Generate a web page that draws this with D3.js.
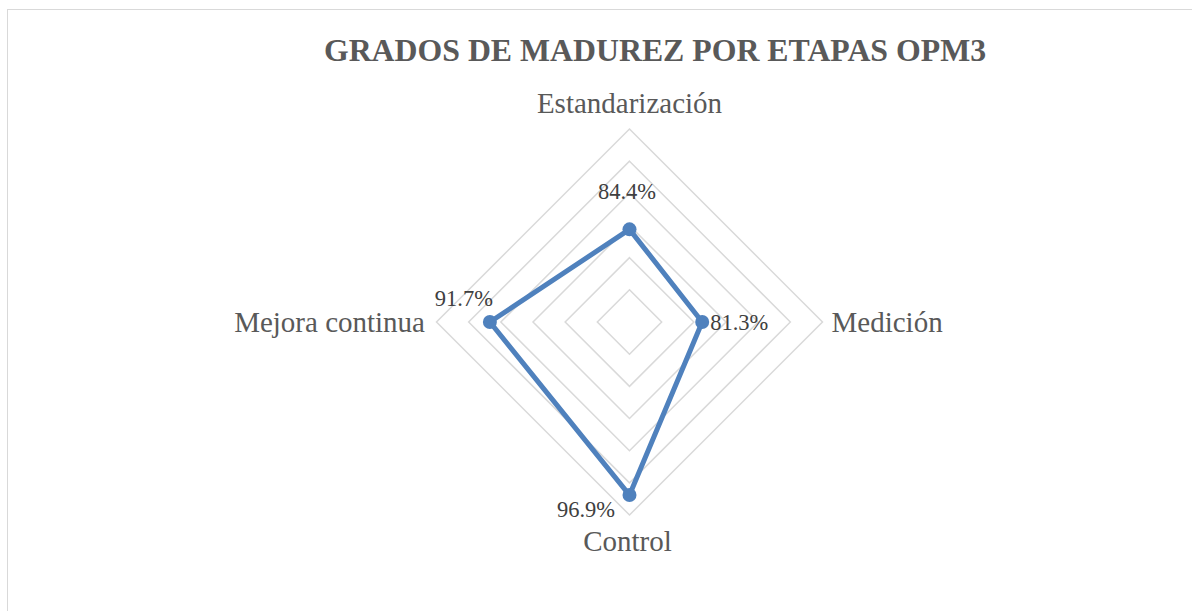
<!DOCTYPE html>
<html>
<head>
<meta charset="utf-8">
<script src="https://cdn.jsdelivr.net/npm/d3@7"></script>
<style>
	body { margin: 0; background: #fff; }
</style>
</head>
<body>
<div id="chart"></div>
<script>
var categories = ['Estandarización', 'Medición', 'Control', 'Mejora continua'];
var values = [84.4, 81.3, 96.9, 91.7];
var valueLabels = ['84.4%', '81.3%', '96.9%', '91.7%'];
var ringTicks = [75, 80, 85, 90, 95, 100];

var width = 1192, height = 611;
var cx = 629.5, cy = 322, radius = 193;

var svg = d3.select('#chart').append('svg')
	.attr('width', width)
	.attr('height', height);

// chart area border (runs off the right and bottom edges)
svg.append('rect')
	.attr('x', 7.5).attr('y', 9.5)
	.attr('width', 1200).attr('height', 620)
	.attr('fill', 'none')
	.attr('stroke', '#d9d9d9')
	.attr('stroke-width', 1);

svg.append('text')
	.attr('x', 655).attr('y', 61)
	.attr('text-anchor', 'middle')
	.style('font-family', "'Liberation Serif'")
	.style('font-size', '31.8px')
	.style('font-weight', 'bold')
	.attr('fill', '#595959')
	.text('GRADOS DE MADUREZ POR ETAPAS OPM3');

var r = d3.scaleLinear().domain([70, 100]).range([0, radius]);
var angle = d3.scalePoint().domain(d3.range(categories.length + 1)).range([0, 2 * Math.PI]);

function pt(i, v) {
	var a = angle(i);
	return [cx + Math.sin(a) * r(v), cy - Math.cos(a) * r(v)];
}

var g = svg.append('g');

// grid rings
g.selectAll('.ring')
	.data(ringTicks)
	.enter().append('path')
	.attr('class', 'ring')
	.attr('d', function(t) {
		return d3.line()(categories.map(function(c, i) { return pt(i, t); })) + 'Z';
	})
	.attr('fill', 'none')
	.attr('stroke', '#d9d9d9')
	.attr('stroke-width', 1.5);

// series line
g.append('path')
	.attr('d', d3.line()(values.map(function(v, i) { return pt(i, v); })) + 'Z')
	.attr('fill', 'none')
	.attr('stroke', '#4f81bd')
	.attr('stroke-width', 5)
	.attr('stroke-linejoin', 'round');

g.selectAll('.dot')
	.data(values)
	.enter().append('circle')
	.attr('class', 'dot')
	.attr('cx', function(v, i) { return pt(i, v)[0]; })
	.attr('cy', function(v, i) { return pt(i, v)[1]; })
	.attr('r', 7)
	.attr('fill', '#4f81bd');

// category labels
var catPos = [
	{ dx: 0, dy: -16.5, anchor: 'middle' },
	{ dx: 9, dy: 9.5, anchor: 'start' },
	{ dx: -2, dy: 35.5, anchor: 'middle' },
	{ dx: -11.5, dy: 9.5, anchor: 'end' }
];
g.selectAll('.cat')
	.data(categories)
	.enter().append('text')
	.attr('class', 'cat')
	.attr('x', function(d, i) { return pt(i, 100)[0] + catPos[i].dx; })
	.attr('y', function(d, i) { return pt(i, 100)[1] + catPos[i].dy; })
	.attr('text-anchor', function(d, i) { return catPos[i].anchor; })
	.style('font-family', "'Liberation Serif'")
	.style('font-size', '29px')
	.attr('fill', '#595959')
	.text(function(d) { return d; });

// data labels
var lblPos = [
	{ dx: -2.5, dy: -30, anchor: 'middle' },
	{ dx: 8, dy: 8, anchor: 'start' },
	{ dx: -14.5, dy: 21.5, anchor: 'end' },
	{ dx: 3, dy: -16, anchor: 'end' }
];
g.selectAll('.lbl')
	.data(values)
	.enter().append('text')
	.attr('class', 'lbl')
	.attr('x', function(v, i) { return pt(i, v)[0] + lblPos[i].dx; })
	.attr('y', function(v, i) { return pt(i, v)[1] + lblPos[i].dy; })
	.attr('text-anchor', function(v, i) { return lblPos[i].anchor; })
	.style('font-family', "'Liberation Serif'")
	.style('font-size', '22.5px')
	.attr('fill', '#404040')
	.text(function(v, i) { return valueLabels[i]; });
</script>
</body>
</html>
